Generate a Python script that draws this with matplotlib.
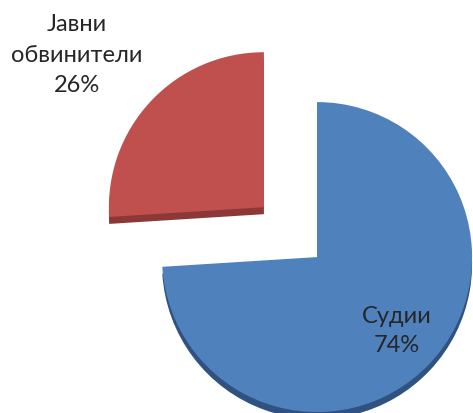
import matplotlib.pyplot as plt

# data
labels = ["Јавни\nобвинители", "Судии"]
values = [26, 74]
colors = ["#C0504D", "#4F81BD"]
side_colors = ["#8C3836", "#2F5280"]
explode = [0.47, 0.0]

plt.rcParams['font.family'] = ['Lato', 'DejaVu Sans']

fig = plt.figure(figsize=(4.73, 4.14), dpi=100)
ax = fig.add_axes([0, 0, 1, 1])

# side of the "3d" pie: darker copy a bit lower
ax.pie(values, colors=side_colors, explode=explode, startangle=90,
       counterclock=True, center=(0, -0.045),
       wedgeprops=dict(linewidth=0))
wedges, _ = ax.pie(values, colors=colors, explode=explode, startangle=90,
                   counterclock=True, wedgeprops=dict(linewidth=0))

ax.text(-1.548, 1.31, f"{labels[0]}\n{values[0]}%", ha="center", va="center",
        fontsize=17, color="#262626", linespacing=1.55)
ax.text(0.516, -0.47, f"{labels[1]}\n{values[1]}%", ha="center", va="center",
        fontsize=17, color="#262626", linespacing=1.5)

ax.set_xlim(-2.045, 1.006)
ax.set_ylim(-1.006, 1.665)
ax.set_aspect("auto")
ax.axis("off")

fig.savefig("out.png", dpi=100)
